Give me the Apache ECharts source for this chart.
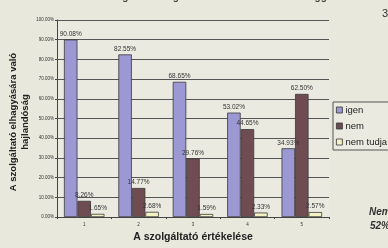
<!DOCTYPE html>
<html><head><meta charset="utf-8">
<script src="https://cdn.jsdelivr.net/npm/echarts@6/dist/echarts.min.js"></script>
<style>html,body{margin:0;padding:0;background:#e9e8dd;}#c{width:388px;height:248px;}</style>
</head><body><div id="c"></div>
<script>
const categories = ['1', '2', '3', '4', '5'];
const igen = [90.08, 82.55, 68.65, 53.02, 34.93];
const nem = [8.26, 14.77, 29.76, 44.65, 62.50];
const nemTudja = [1.65, 2.68, 1.59, 2.33, 2.57];
const seriesNames = ['igen', 'nem', 'nem tudja'];

const chart = echarts.init(document.getElementById('c'), null, {renderer: 'canvas'});
const lbl = {show: true, position: 'top', distance: 2, fontSize: 6.5, color: '#333', fontFamily: 'Liberation Sans',
  formatter: p => p.value.toFixed(2) + '%'};
function mk(name, data, color) {
  return {name, type: 'bar', data, barWidth: 13.5, barGap: '0%',
    itemStyle: {color, borderColor: '#3a3a3a', borderWidth: 0.8}, label: lbl};
}
const ttl = {fontSize: 9.5, fontWeight: 'bold', fill: '#222', fontFamily: 'Liberation Sans', align: 'center', verticalAlign: 'middle', x: 0, y: 0};
chart.setOption({
  backgroundColor: '#e9e8dd',
  animation: false,
  grid: {left: 57, right: 59, top: 20, bottom: 25, show: true, backgroundColor: '#ebeae0', borderWidth: 0},
  legend: {
    orient: 'vertical', left: 333, top: 102, itemWidth: 6, itemHeight: 6, itemGap: 6,
    padding: [3, 6, 3, 3], borderColor: '#555', borderWidth: 1, backgroundColor: '#ebeae0',
    icon: 'rect', textStyle: {fontSize: 9.5, color: '#222', fontFamily: 'Liberation Sans', padding: [0,0,0,-2]},
    data: seriesNames.map(n => ({name: n, itemStyle: {borderColor: '#333', borderWidth: 0.8}}))
  },
  xAxis: {
    type: 'category', data: categories,
    name: 'A szolgáltató értékelése', nameLocation: 'middle', nameGap: 14,
    nameTextStyle: {fontSize: 10.5, fontWeight: 'bold', color: '#222', fontFamily: 'Liberation Sans'},
    axisLine: {lineStyle: {color: '#444', width: 1}},
    axisTick: {show: true, length: 2, lineStyle: {color: '#444'}},
    axisLabel: {fontSize: 4.5, color: '#333', margin: 5}
  },
  yAxis: {
    type: 'value', min: 0, max: 100, interval: 10,
    axisLine: {show: true, lineStyle: {color: '#444', width: 1}},
    axisTick: {show: true, length: 2, lineStyle: {color: '#444'}},
    axisLabel: {fontSize: 4.5, color: '#333', margin: 3, formatter: v => v.toFixed(2) + '%'},
    splitLine: {lineStyle: {color: '#555', width: 1}}
  },
  series: [mk('igen', igen, '#9b98d4'), mk('nem', nem, '#6f4c52'), mk('nem tudja', nemTudja, '#f4f1c2')],
  graphic: [
    {type: 'text', style: Object.assign({}, ttl, {text: 'A szolgáltató elhagyására való'}), x: 13, y: 122, rotation: Math.PI/2},
    {type: 'text', style: Object.assign({}, ttl, {text: 'hajlandóság'}), x: 25, y: 122, rotation: Math.PI/2},
    {type: 'text', style: {x: 0, y: 0, text: 'Az értékelés hűség és a szolgáltató értékelésének összefüggései', fontSize: 10, fontWeight: 'bold', fill: '#444', fontFamily: 'Liberation Sans', align: 'center', verticalAlign: 'middle'}, x: 192, y: -3},
    {type: 'text', style: {x: 0, y: 0, text: '3', fontSize: 11, fill: '#333', fontFamily: 'Liberation Sans', align: 'left', verticalAlign: 'middle'}, x: 382, y: 14},
    {type: 'text', style: {x: 0, y: 0, text: 'Nem', fontSize: 10, fontWeight: 'bold', fontStyle: 'italic', fill: '#333', fontFamily: 'Liberation Sans', align: 'left', verticalAlign: 'middle'}, x: 369, y: 212},
    {type: 'text', style: {x: 0, y: 0, text: '52%', fontSize: 10, fontWeight: 'bold', fontStyle: 'italic', fill: '#333', fontFamily: 'Liberation Sans', align: 'left', verticalAlign: 'middle'}, x: 370, y: 226}
  ]
});
</script></body></html>
